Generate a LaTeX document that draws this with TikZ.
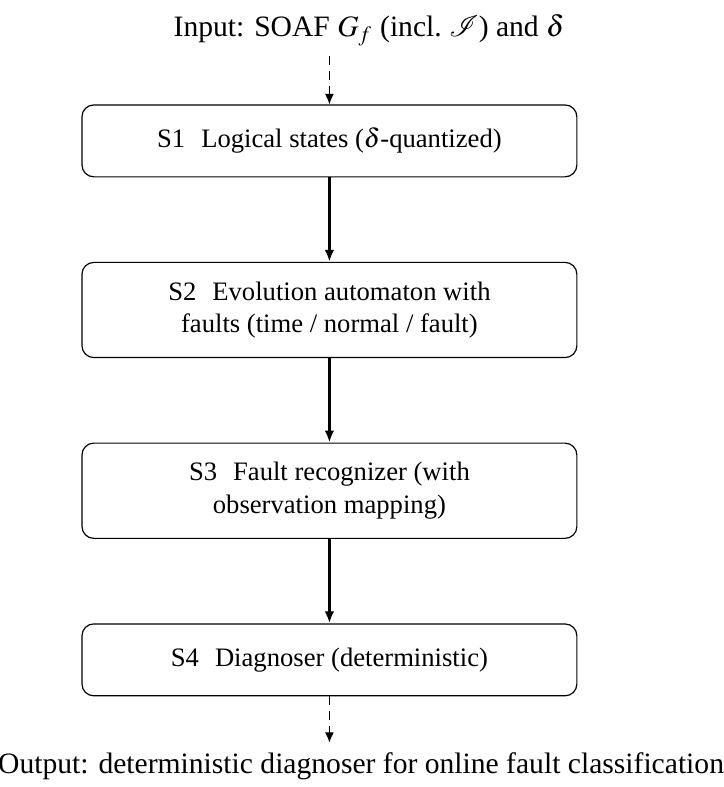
\documentclass[tikz,border=0pt]{standalone}
\usepackage{mathptmx}
\usepackage{mathrsfs}
\usepackage{amsmath}
\usepackage{fontspec}
\setmainfont{Liberation Serif}
\usetikzlibrary{positioning,arrows.meta}

\begin{document}
\begin{tikzpicture}[
        stage/.style={draw, rounded corners=4pt, minimum width=167.2pt, minimum height=24.3pt,
            align=center, inner ysep=6.5pt, font=\fontsize{9}{11}\selectfont},
        flow/.style={-{Latex[length=4pt,width=3.2pt]}, thick},
        io/.style={-{Latex[length=3.5pt,width=3pt]}, dash pattern=on 3pt off 2pt},
        node distance=28.5pt]
        \useasboundingbox (0,0) rectangle (244.6pt,-265.9pt);
        \node[anchor=base] (input) at (124.7pt,-12.4pt) {Input: SOAF $G_f$ (incl.\ $\mathscr{I}$) and $\delta$};
        \node[stage] (s1) at (111.3pt,-47.6pt) {S1\hspace{0.6em}Logical states ($\delta$-quantized)};
        \node[stage, below=of s1] (s2) {S2\hspace{0.6em}Evolution automaton with\\faults (time / normal / fault)};
        \node[stage, below=of s2] (s3) {S3\hspace{0.6em}Fault recognizer (with\\observation mapping)};
        \node[stage, below=of s3] (s4) {S4\hspace{0.6em}Diagnoser (deterministic)};
        \node[anchor=base] (output) at (122pt,-261.5pt) {Output: deterministic diagnoser for online fault classification};
        \draw[io] (input.south -| s1.north) -- (s1);
        \draw[flow] (s1) -- (s2);
        \draw[flow] (s2) -- (s3);
        \draw[flow] (s3) -- (s4);
        \draw[io] (s4) -- (s4.south |- output.north);
    \end{tikzpicture}
\end{document}
